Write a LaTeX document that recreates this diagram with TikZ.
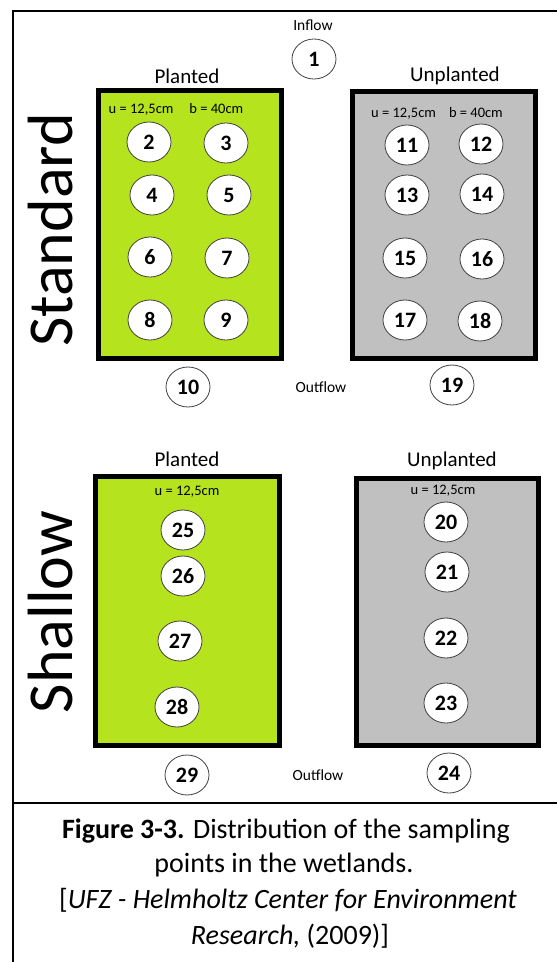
\documentclass[tikz,border=0pt]{standalone}
\usepackage{fontspec}
\usetikzlibrary{shapes.geometric}
\setmainfont{Carlito}
\definecolor{plgreen}{RGB}{181,227,30}
\definecolor{unplgray}{RGB}{192,192,192}
\begin{document}
\begin{tikzpicture}[x=1pt,y=-1pt,
  pt/.style={ellipse,draw=black!75,line width=0.8pt,fill=white,minimum width=44pt,minimum height=40pt,inner sep=0pt,font=\fontsize{22}{22}\selectfont\bfseries},
  bed/.style={draw=black,line width=5pt},
  hdr/.style={font=\fontsize{21}{21}\selectfont},
  dim/.style={font=\fontsize{14.5}{15}\selectfont},
  flow/.style={font=\fontsize{15.5}{15.5}\selectfont},
  side/.style={font=\fontsize{64}{64}\selectfont,rotate=90},
  captxt/.style={font=\fontsize{28}{28}\selectfont,align=center}
]
\useasboundingbox (0,0) rectangle (557,962);
% frame
\draw[line width=1.5pt] (557,11) -- (13,11) -- (13,962);
\draw[line width=1.5pt] (13,803) -- (557,803);

% Standard
\node[side] (std) at (51,230) {Standard};
\node[flow] (inflow) at (313,25) {Inflow};
\node[pt] (p1) at (314,59) {1};
\node[hdr] (hpl) at (187,76) {Planted};
\node[hdr] (hun) at (455,76) {Unplanted};
\path[bed,fill=plgreen] (98.5,90.5) rectangle (281.5,358.5);
\path[bed,fill=unplgray] (352,91) rectangle (535,358.5);
\node[dim] (dpl) at (176,109) {u = 12,5cm\hspace{1.1em}b = 40cm};
\node[dim] (dun) at (437,113) {u = 12,5cm\hspace{0.9em}b = 40cm};
\node[pt] (p2) at (149,142) {2};
\node[pt] (p3) at (226,143) {3};
\node[pt] (p4) at (152,195) {4};
\node[pt] (p5) at (229,195) {5};
\node[pt] (p6) at (150,257) {6};
\node[pt] (p7) at (227,258) {7};
\node[pt] (p8) at (150,320) {8};
\node[pt] (p9) at (226,320) {9};
\node[pt] (p11) at (407,145) {11};
\node[pt] (p12) at (481,144) {12};
\node[pt] (p13) at (407,195) {13};
\node[pt] (p14) at (482,194) {14};
\node[pt] (p15) at (405,258) {15};
\node[pt] (p16) at (482,259) {16};
\node[pt] (p17) at (405,320) {17};
\node[pt] (p18) at (480,321) {18};
\node[pt] (p10) at (188,387) {10};
\node[flow] (out1) at (321,387) {Outflow};
\node[pt] (p19) at (452,385) {19};

% Shallow
\node[side] (sha) at (51,612) {Shallow};
\node[hdr] (hpl2) at (187,459) {Planted};
\node[hdr] (hun2) at (452,461) {Unplanted};
\path[bed,fill=plgreen] (95.5,476) rectangle (279.5,745);
\path[bed,fill=unplgray] (356,478.5) rectangle (538,745.5);
\node[dim] (dpl2) at (187,492) {u = 12,5cm};
\node[dim] (dun2) at (443,491) {u = 12,5cm};
\node[pt] (p25) at (183,530) {25};
\node[pt] (p26) at (183,576) {26};
\node[pt] (p27) at (180,641) {27};
\node[pt] (p28) at (177,707) {28};
\node[pt] (p20) at (446,522) {20};
\node[pt] (p21) at (447,572) {21};
\node[pt] (p22) at (446,638) {22};
\node[pt] (p23) at (446,703) {23};
\node[pt] (p29) at (187,775) {29};
\node[flow] (out2) at (318,775) {Outflow};
\node[pt] (p24) at (449,773) {24};

% caption
\node[captxt] (c1) at (286,831) {\textbf{Figure 3-3.} Distribution of the sampling};
\node[captxt] (c2) at (284,865) {points in the wetlands.};
\node[captxt] (c3) at (288,900) {[\textit{UFZ - Helmholtz Center for Environment}};
\node[captxt] (c4) at (290,936) {\textit{Research,} (2009)]};
\end{tikzpicture}
\end{document}
